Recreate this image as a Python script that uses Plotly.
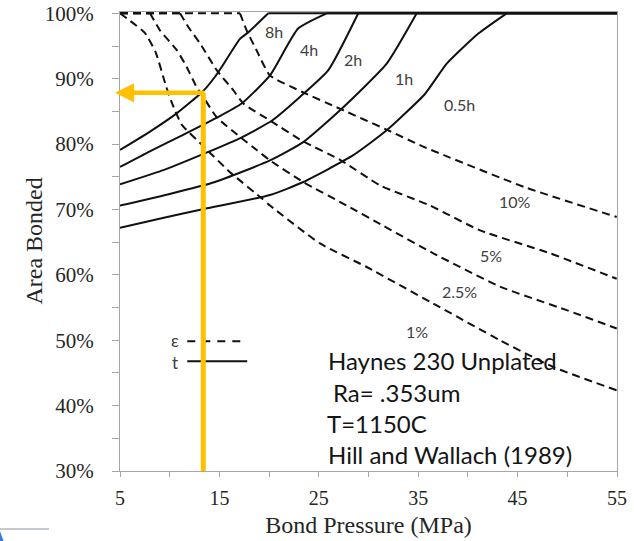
import plotly.graph_objects as go

# ---------------- data ----------------
# Bonding-time curves (solid): pressure in MPa, area bonded in %
p_8h = [5, 7.9, 10.7, 13.3, 14.56, 15.23, 17.07, 17.91, 19.92, 55]
a_8h = [79.1, 81.8, 84.7, 88.0, 90.3, 91.8, 96.1, 97.1, 100, 100]

p_4h = [5, 8.0, 11.2, 14.7, 17.24, 20.09, 22.94, 25.8, 55]
a_4h = [76.5, 78.9, 81.3, 84.0, 86.2, 90.5, 97.7, 100, 100]

p_2h = [5, 9.5, 13.88, 17.2, 20.3, 23.1, 25.96, 28.97, 55]
a_2h = [73.85, 76.1, 78.8, 81.0, 83.6, 87.2, 91.3, 100, 100]

p_1h = [5, 9.8, 14.56, 20.09, 23.44, 27.3, 31.83, 34.85, 55]
a_1h = [70.6, 72.3, 74.2, 77.5, 80.3, 85.4, 92.3, 100, 100]

p_05h = [5, 9.3, 13.55, 20.09, 23.44, 28.47, 31.83, 35.7, 37.87, 41.05, 43.9, 55]
a_05h = [67.2, 68.7, 70.1, 72.2, 74.2, 78.3, 82.1, 87.7, 92.3, 96.9, 100, 100]

# Strain curves (dashed)
p_e1 = [5, 7.5, 8.6, 9.6, 10.3, 11.2, 13.5, 16.07, 19.26, 20.09, 25.12, 29.82, 36.52, 43.23, 48.59, 54.97]
a_e1 = [100, 97.0, 94.0, 89.0, 86.0, 83.0, 79.5, 75.7, 71.7, 70.6, 64.8, 61.2, 55.6, 50.0, 45.9, 42.35]

p_e25 = [5, 8.02, 9.02, 10.7, 11.71, 12.71, 13.38, 14.73, 17.07, 18.75, 20.09, 23.44, 27.8, 31.5, 36.52, 43.23, 49.94, 54.97]
a_e25 = [100, 100, 97.4, 94.4, 91.8, 88.7, 87.2, 84.1, 81.1, 79.1, 77.5, 74.2, 70.6, 67.5, 63.3, 58.2, 54.6, 51.8]

p_e5 = [5, 11.04, 11.87, 13.05, 14.73, 16.41, 17.41, 20.09, 23.44, 27.13, 31.15, 36.19, 41.22, 48.26, 54.97]
a_e5 = [100, 100, 97.9, 95.4, 91.3, 88.2, 86.2, 83.6, 80.4, 77.6, 73.7, 70.6, 66.8, 63.3, 59.4]

p_e10 = [5, 17.07, 17.74, 18.75, 20.09, 23.3, 27.13, 31.83, 35.68, 45.74, 54.97]
a_e10 = [100, 100, 97.4, 94.3, 90.5, 88.0, 85.4, 82.2, 79.5, 73.4, 68.85]

time_labels = ["8h", "4h", "2h", "1h", "0.5h"]
strain_labels = ["10%", "5%", "2.5%", "1%"]

# selected operating point (yellow guide)
sel_pressure = 13.38
sel_area = 87.84

x_ticks = [5, 15, 25, 35, 45, 55]
y_ticks = [30, 40, 50, 60, 70, 80, 90, 100]

note_lines = ["Haynes 230 Unplated", "Ra= .353um", "T=1150C", "Hill and Wallach (1989)"]

# ---------------- figure ----------------
fig = go.Figure()

solid = [(p_8h, a_8h), (p_4h, a_4h), (p_2h, a_2h), (p_1h, a_1h), (p_05h, a_05h)]
dashed = [(p_e1, a_e1), (p_e25, a_e25), (p_e5, a_e5), (p_e10, a_e10)]

def add_piece(xs, ys, dash, shape):
    if len(xs) < 2:
        return
    line = dict(color="#111111", width=2, shape=shape)
    if shape == "spline":
        line["smoothing"] = 0.5
    if dash:
        line["dash"] = "8px,5px"
    fig.add_trace(go.Scatter(x=xs, y=ys, mode="lines", line=line,
                             hoverinfo="skip", showlegend=False))

# dashed: flat part at 100 % then a smooth descent
for px, py in dashed:
    k = max(i for i, v in enumerate(py) if v >= 100)
    add_piece(px[:k + 1], py[:k + 1], True, "linear")
    add_piece(px[k:], py[k:], True, "spline")

# solid: smooth rise then flat part at 100 %
for px, py in solid:
    k = min(i for i, v in enumerate(py) if v >= 100)
    add_piece(px[:k + 1], py[:k + 1], False, "spline")
    add_piece(px[k:], py[k:], False, "linear")

label_font = dict(family="Lato", size=16, color="#404040")
time_pos = [(20.5, 97.2), (24.0, 94.5), (28.4, 93.0), (33.6, 90.0), (39.2, 86.1)]
strain_pos = [(44.7, 71.2), (42.3, 63.0), (39.2, 57.4), (34.9, 51.4)]
annotations = []
for txt, (x, y) in zip(time_labels, time_pos):
    annotations.append(dict(x=x, y=y, text=txt, showarrow=False, font=label_font))
for txt, (x, y) in zip(strain_labels, strain_pos):
    annotations.append(dict(x=x, y=y, text=txt, showarrow=False, font=label_font))

# legend-like keys
annotations.append(dict(x=10.53, y=50.0, text="ε", showarrow=False, font=dict(family="Lato", size=17, color="#404040")))
annotations.append(dict(x=10.53, y=46.6, text="t", showarrow=False, font=dict(family="Lato", size=17, color="#404040")))

# note text
note_pos = [(25.72, 46.94), (26.2, 42.05), (25.62, 37.3), (25.75, 32.57)]
for txt, (x, y) in zip(note_lines, note_pos):
    annotations.append(dict(x=x, y=y, text=txt, showarrow=False, xanchor="left", yanchor="middle",
                            font=dict(family="Lato", size=24, color="#141414")))

# y-axis title placed as an annotation for exact positioning
annotations.append(dict(x=-0.175, y=0.5, xref="paper", yref="paper", text="Area Bonded",
                        textangle=-90, showarrow=False, xanchor="center", yanchor="middle",
                        font=dict(family="Liberation Serif", size=24, color="#262626")))

# yellow arrow (horizontal)
annotations.append(dict(x=4.5, y=sel_area, ax=sel_pressure + 0.25, ay=sel_area, axref="x", ayref="y",
                        xref="x", yref="y", text="", showarrow=True, arrowhead=2, arrowsize=0.85,
                        arrowwidth=4.5, arrowcolor="#FFC000"))

shapes = [
    dict(type="line", xref="x", yref="y", x0=11.77, x1=17.47, y0=49.85, y1=49.85,
         line=dict(color="#111111", width=2, dash="8px,7px")),
    dict(type="line", xref="x", yref="y", x0=11.77, x1=17.8, y0=46.8, y1=46.8,
         line=dict(color="#111111", width=2)),
    dict(type="line", xref="x", yref="y", x0=sel_pressure, x1=sel_pressure, y0=30, y1=sel_area,
         line=dict(color="#FFC000", width=5)),
    # small decoration at the bottom-left corner of the screenshot
    dict(type="line", xref="paper", yref="paper", x0=-0.2414, x1=-0.1429, y0=-0.1266, y1=-0.1266,
         line=dict(color="#B0B8C4", width=1.5)),
    dict(type="path", xref="paper", yref="paper",
         path="M -0.2435 -0.1550 L -0.2334 -0.1550 L -0.2414 -0.1310 Z",
         fillcolor="#3A7BE0", line=dict(width=0)),
]

x_tick_font = dict(family="Liberation Serif", size=20, color="#262626")
y_tick_font = dict(family="Liberation Serif", size=21, color="#262626")
title_font = dict(family="Liberation Serif", size=24, color="#262626")

fig.update_layout(
    width=634, height=541,
    margin=dict(l=120, r=17, t=12, b=70, autoexpand=False),
    paper_bgcolor="white", plot_bgcolor="white",
    showlegend=False,
    annotations=annotations,
    shapes=shapes,
    xaxis=dict(range=[5, 55], tickvals=x_ticks, ticktext=[str(v) for v in x_ticks],
               automargin=False,
               showgrid=False, zeroline=False, showline=True, linecolor="#A6A6A6", linewidth=1,
               mirror=True, ticks="outside", ticklen=5, tickcolor="#A6A6A6",
               minor=dict(dtick=5, tick0=5, ticks="outside", ticklen=5, tickcolor="#A6A6A6", showgrid=False),
               tickfont=x_tick_font, ticklabelstandoff=4,
               title=dict(text="Bond Pressure (MPa)", font=title_font, standoff=8)),
    yaxis=dict(range=[30, 100.2], tickvals=y_ticks, ticktext=[f"{v}%" for v in y_ticks],
               automargin=False,
               showgrid=False, zeroline=False, showline=True, linecolor="#A6A6A6", linewidth=1,
               mirror=True, ticks="outside", ticklen=7, tickcolor="#A6A6A6",
               minor=dict(dtick=5, tick0=30, ticks="outside", ticklen=7, tickcolor="#A6A6A6", showgrid=False),
               tickfont=y_tick_font, ticklabelstandoff=14),
)

fig.write_html("out.html")
